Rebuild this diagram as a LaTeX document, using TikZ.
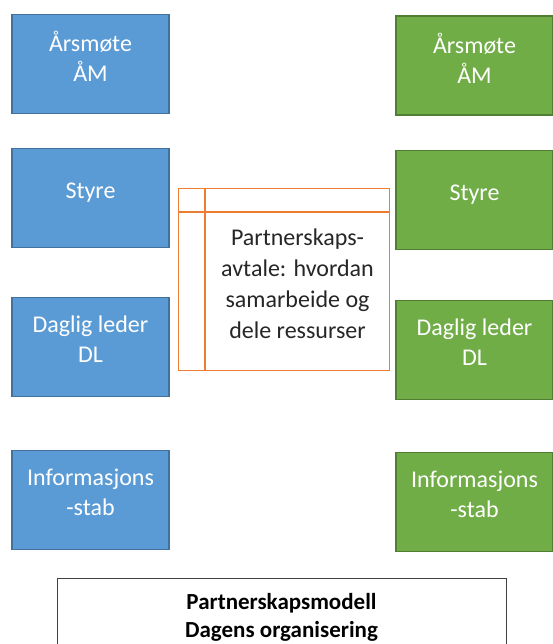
\documentclass[tikz,border=0pt]{standalone}
\usepackage{fontspec}
\setmainfont{Carlito}
\usepackage{tikz}
\usetikzlibrary{positioning}
\definecolor{bluefill}{HTML}{5B9BD5}
\definecolor{blueedge}{HTML}{41719C}
\definecolor{greenfill}{HTML}{70AD47}
\definecolor{greenedge}{HTML}{507E32}
\definecolor{orangeline}{HTML}{ED7D31}
\definecolor{ink}{HTML}{262626}
\tikzset{
  orgbox/.style={line width=1.2pt,minimum width=157pt,minimum height=99pt,
                 align=center,text=white,inner sep=0pt,text depth=15pt,
                 font=\fontsize{24}{30}\selectfont},
  bluebox/.style={orgbox,draw=blueedge,fill=bluefill},
  greenbox/.style={orgbox,draw=greenedge,fill=greenfill},
  avtalebox/.style={draw=orangeline,line width=1.6pt,minimum width=211pt,
                    minimum height=182pt,inner sep=0pt},
  avtaletext/.style={align=center,text=ink,font=\fontsize{24}{31}\selectfont},
  titlebox/.style={draw=black!75,line width=1pt,minimum width=449pt,
                   minimum height=80pt,inner sep=0pt}
}
\begin{document}
\begin{tikzpicture}[x=1pt,y=-1pt]
  \useasboundingbox (0,0) rectangle (553,644);
  % left side
  \node[bluebox] (amL) at (90.5,64) {Årsmøte\\ÅM};
  \node[bluebox] (styreL) at (90.5,198) {Styre};
  \node[bluebox] (dlL) at (90.5,347) {Daglig leder\\DL};
  \node[bluebox] (infoL) at (90.5,500) {Informasjons\\-stab};
  % right side
  \node[greenbox] (amR) at (474.5,65.5) {Årsmøte\\ÅM};
  \node[greenbox] (styreR) at (474.5,200) {Styre};
  \node[greenbox] (dlR) at (474.5,350) {Daglig leder\\DL};
  \node[greenbox] (infoR) at (474.5,502) {Informasjons\\-stab};
  % partnerskapsavtale
  \node[avtalebox] (avtale) at (284,279.5) {};
  \draw[orangeline,line width=1.6pt] ([xshift=27pt]avtale.north west) -- ([xshift=27pt]avtale.south west);
  \draw[orangeline,line width=1.6pt] ([yshift=-24pt]avtale.north west) -- ([yshift=-24pt]avtale.north east);
  \node[avtaletext] (avtaletxt) at (297.5,284)
    {Partnerskaps-\\avtale: hvordan\\samarbeide og\\dele ressurser};
  % tittel
  \node[titlebox,anchor=north west] (tittel) at (57,578) {};
  \node[font=\fontsize{23}{28}\selectfont\bfseries,align=center] (tittelTxt) at (281.5,617)
    {Partnerskapsmodell\\Dagens organisering};
\end{tikzpicture}
\end{document}
